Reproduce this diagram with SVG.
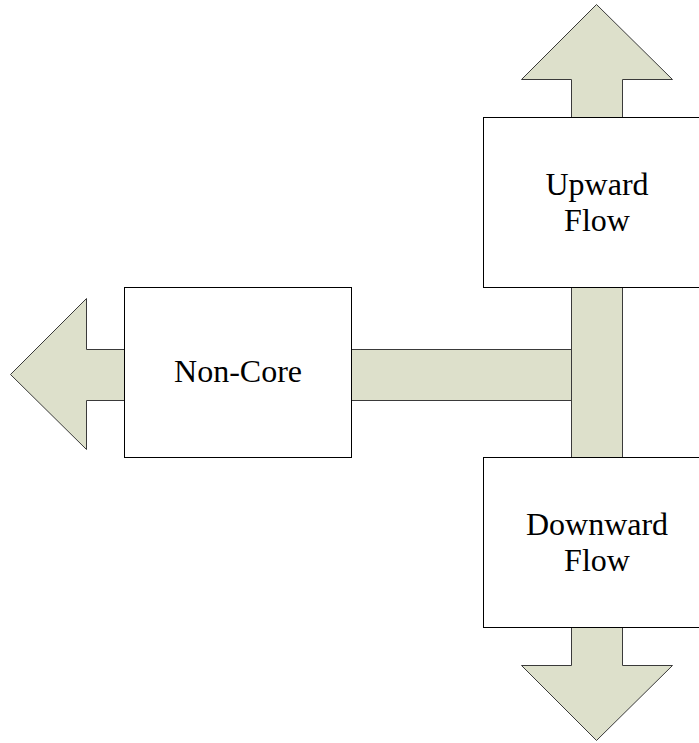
<svg xmlns="http://www.w3.org/2000/svg" width="699" height="743" viewBox="0 0 699 743">
  <style>
    .flow { fill: #dde0cb; stroke: #3a3a3a; stroke-width: 1; stroke-linejoin: miter; }
    .box { fill: #ffffff; stroke: #000000; stroke-width: 1; }
    .label { font-family: "Liberation Serif", "Times New Roman", serif; font-size: 32px; fill: #000000; text-anchor: middle; }
  </style>
  <rect width="699" height="743" fill="#ffffff"/>

  <!-- block arrows running behind the boxes -->
  <g id="connectors">
    <!-- upward arrow -->
    <polygon class="flow" points="596.5,4.5 672.5,79.5 622.5,79.5 622.5,300 571.5,300 571.5,79.5 521.5,79.5"/>
    <!-- downward arrow -->
    <polygon class="flow" points="596.5,740.5 672.5,665.5 622.5,665.5 622.5,440 571.5,440 571.5,665.5 521.5,665.5"/>
    <!-- leftward arrow from the trunk through Non-Core -->
    <polygon class="flow" points="10.5,374.5 86.5,298.5 86.5,349.5 571.5,349.5 571.5,400.5 86.5,400.5 86.5,449.5"/>
    <!-- vertical trunk between the two flow boxes -->
    <rect class="flow" x="571.5" y="287.5" width="51" height="170"/>
  </g>

  <g id="upward-flow">
    <rect class="box" x="483.5" y="117.5" width="227" height="170"/>
    <text class="label" x="597" y="195">Upward</text>
    <text class="label" x="597" y="231">Flow</text>
  </g>

  <g id="downward-flow">
    <rect class="box" x="483.5" y="457.5" width="227" height="170"/>
    <text class="label" x="597" y="535">Downward</text>
    <text class="label" x="597" y="571">Flow</text>
  </g>

  <g id="non-core">
    <rect class="box" x="124.5" y="287.5" width="227" height="170"/>
    <text class="label" x="238" y="382">Non-Core</text>
  </g>
</svg>
